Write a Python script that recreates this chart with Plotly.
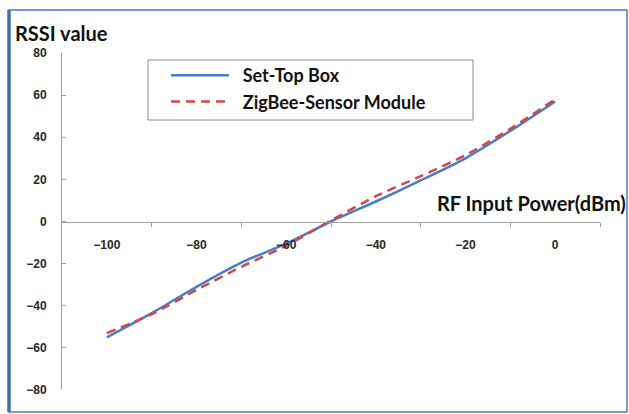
import plotly.graph_objects as go

# Data
rf_power = [-100, -90, -80, -70, -60, -50, -40, -30, -20, -10, 0]
set_top_box = [-55, -43.5, -31, -19.5, -10.5, 0, 9.5, 19.5, 30, 43, 57]
zigbee_sensor = [-53, -44, -32.5, -21.5, -11.5, 0.5, 12, 21.5, 31.5, 44, 58]

x_label_vals = [-100, -80, -60, -40, -20, 0]
x_minor_ticks = [-90, -70, -50, -30, -10, 10]
y_tick_vals = [80, 60, 40, 20, 0, -20, -40, -60, -80]

W, H = 629, 414
L, R, T, B = 62, 29, 53, 24
pw, ph = W - L - R, H - T - B

def px(xp):
    return (xp - L) / pw

def py(yp):
    return (H - B - yp) / ph

NB = "\u00a0\u00a0"

fig = go.Figure()
fig.add_trace(go.Scatter(
    x=rf_power, y=set_top_box, mode="lines", name=NB + "Set-Top Box",
    line=dict(color="#4A7EC4", width=2.5, shape="spline", smoothing=0.7)))
fig.add_trace(go.Scatter(
    x=rf_power, y=zigbee_sensor, mode="lines", name=NB + "ZigBee-Sensor Module",
    line=dict(color="#D0484A", width=2.5, dash="9px,6px", shape="spline", smoothing=0.7)))

tick_font = dict(family="Liberation Sans, Arial", size=12, color="#262626", weight="bold")

fig.update_layout(
    width=W, height=H,
    margin=dict(l=L, r=R, t=T, b=B, autoexpand=False),
    paper_bgcolor="white", plot_bgcolor="white",
    showlegend=True,
    legend=dict(
        x=px(166), y=py(57), xanchor="left", yanchor="top",
        bgcolor="rgba(0,0,0,0)", borderwidth=0,
        font=dict(family="Lato", size=18, color="#111111", weight="bold"),
        itemwidth=58, tracegroupgap=0,
    ),
    xaxis=dict(
        range=[-110, 10], anchor="free", position=0.5,
        showline=True, linecolor="#A0A0A0", linewidth=1,
        showgrid=False, zeroline=False,
        tickmode="array", tickvals=x_label_vals, ticks="",
        ticklabelstandoff=12,
        tickfont=tick_font,
        minor=dict(tickmode="array", tickvals=x_minor_ticks, ticks="outside",
                   ticklen=4, tickcolor="#A0A0A0", showgrid=False),
    ),
    yaxis=dict(
        range=[-80, 80],
        showline=True, linecolor="#A0A0A0", linewidth=1,
        showgrid=False, zeroline=False,
        tickmode="array", tickvals=y_tick_vals,
        ticks="inside", ticklen=4, tickcolor="#A0A0A0",
        ticklabelstandoff=12,
        tickfont=tick_font,
    ),
)

# Legend frame
fig.add_shape(type="rect", xref="paper", yref="paper",
              x0=px(148), x1=px(473), y0=py(120), y1=py(60),
              line=dict(color="#8A8A8A", width=1), fillcolor="rgba(0,0,0,0)")

# Outer frame
fig.add_shape(type="rect", xref="paper", yref="paper",
              x0=px(9), x1=px(627), y0=py(412), y1=py(10),
              line=dict(color="#4A7EBB", width=1.5), fillcolor="rgba(0,0,0,0)")
fig.add_shape(type="line", xref="paper", yref="paper",
              x0=px(9), x1=px(9), y0=py(412), y1=py(10),
              line=dict(color="#3F6FAE", width=3.5))

# Axis titles
fig.add_annotation(text="RSSI value", xref="paper", yref="paper",
                   x=px(13), y=py(33), xanchor="left", yanchor="middle",
                   showarrow=False,
                   font=dict(family="Lato", size=20, color="#111111", weight="bold"))
fig.add_annotation(text="RF Input Power(dBm)", xref="paper", yref="paper",
                   x=px(628), y=py(203), xanchor="right", yanchor="middle",
                   showarrow=False,
                   font=dict(family="Lato", size=20, color="#111111", weight="bold"))

fig.write_html("out.html", config={"displayModeBar": False},
               post_script="document.body.style.margin='0px';")
